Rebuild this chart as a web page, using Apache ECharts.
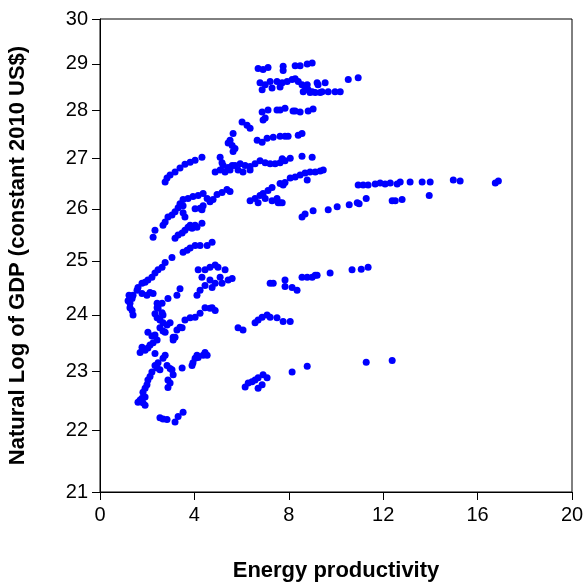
<!DOCTYPE html>
<html>
<head>
<meta charset="utf-8">
<script src="https://cdn.jsdelivr.net/npm/echarts@6/dist/echarts.min.js"></script>
<style>
  html, body { margin: 0; padding: 0; background: #fff; }
  #chart { width: 584px; height: 585px; }
</style>
</head>
<body>
<div id="chart"></div>
<script>
// [energy productivity, natural log of GDP], grouped by cluster
const topRows = [
  [6.70,28.90],[6.91,28.88],[7.12,28.92],[7.76,28.95],[7.76,28.86],[8.27,28.96],[8.48,28.96],[8.78,29.00],[8.99,29.02],
  [6.78,28.59],[7.00,28.55],[7.21,28.62],[7.50,28.62],[7.72,28.59],[7.93,28.62],[8.14,28.66],[6.87,28.44],[7.29,28.48],[7.63,28.50],
  [8.27,28.68],[8.40,28.62],[8.56,28.55],[8.69,28.51],[8.82,28.44],[8.99,28.40],[9.12,28.38],[9.20,28.59],[9.33,28.38],[9.54,28.59],
  [8.61,28.40],[8.90,28.38],[9.41,28.40],[9.67,28.40],[9.96,28.40],[10.18,28.40],[10.52,28.66],[10.94,28.70],[8.78,28.55],[9.24,28.55]
];
const row28 = [
  [6.87,27.97],[7.00,27.84],[6.91,27.80],[7.12,28.01],[7.50,28.01],[7.84,28.05],[8.18,27.99],[8.48,27.97],[8.82,27.99],[9.03,28.03],
  [7.63,28.01],[8.27,27.99]
];
const row275 = [
  [6.66,27.38],[6.87,27.34],[7.08,27.42],[7.34,27.44],[7.63,27.46],[7.84,27.46],[7.97,27.46],[8.40,27.48],[8.56,27.52],
  [6.02,27.76],[6.23,27.69],[6.36,27.63],[5.64,27.52],[5.51,27.38],[5.43,27.32],[5.60,27.27],[5.72,27.21],[5.64,27.15]
];
const row27 = [
  [5.09,27.03],[5.17,26.92],[5.22,26.86],[5.43,26.82],[5.60,26.86],[5.72,26.86],[5.94,26.90],[6.15,26.86],[6.36,26.84],[6.57,26.90],
  [6.78,26.96],[7.00,26.92],[7.21,26.90],[7.42,26.90],[7.63,26.92],[7.84,26.96],[8.06,27.01],[8.56,27.05],[8.99,27.03],[7.72,27.00],
  [4.88,26.73],[5.09,26.77],[5.30,26.73],[5.51,26.77],[5.85,26.77],[6.06,26.73],[6.36,26.77],
  [7.63,26.50],[7.84,26.52],[8.06,26.61],[8.27,26.63],[8.48,26.67],[8.69,26.71],[8.90,26.73],[9.12,26.73],[9.33,26.75],[9.46,26.77],
  [8.78,26.57],[7.76,26.47],
  [2.76,26.53],[2.84,26.61],[2.97,26.67],[3.18,26.73],[3.39,26.81],[3.60,26.89],[3.82,26.93],[4.03,26.97],[4.32,27.03]
];
const row26 = [
  [3.39,26.10],[3.52,26.18],[3.73,26.20],[3.94,26.24],[4.16,26.26],[4.37,26.30],[4.54,26.20],[4.66,26.14],[4.79,26.18],[4.96,26.28],
  [5.17,26.32],[5.38,26.38],[5.51,26.34],[4.03,26.00],[4.24,26.01],[4.37,26.06],
  [6.36,26.16],[6.57,26.20],[6.78,26.26],[6.91,26.30],[7.12,26.36],[7.29,26.42],[7.50,26.20],[7.63,26.12],[6.70,26.12],[7.00,26.20],
  [7.29,26.16],[7.55,26.12],[7.72,26.12]
];
const rightArms = [
  [10.94,26.47],[11.15,26.47],[11.36,26.47],[11.66,26.49],[11.87,26.51],[12.08,26.49],[12.30,26.51],[12.59,26.49],[12.72,26.53],
  [13.14,26.53],[13.65,26.53],[13.99,26.53],[14.97,26.57],[15.26,26.55],[16.75,26.51],[16.88,26.55],
  [8.56,25.84],[8.69,25.90],[9.03,25.96],[9.67,25.98],[10.05,26.04],[10.56,26.08],[10.90,26.12],[10.98,26.10],[11.28,26.20],
  [12.38,26.16],[12.51,26.16],[12.80,26.18],[13.95,26.26]
];
const band25 = [
  [4.32,25.98],[3.52,26.06],[3.31,26.02],[3.18,25.94],[3.05,25.88],[2.88,25.84],[2.76,25.74],[2.67,25.68],[2.33,25.58],[2.25,25.45],
  [3.52,25.92],[3.60,25.84],
  [4.32,25.72],[4.11,25.64],[3.90,25.62],[3.73,25.64],[3.60,25.58],[3.48,25.53],[3.31,25.49],[3.18,25.43],[3.82,25.68],[4.03,25.68],
  [4.75,25.35],[4.54,25.29],[4.03,25.29],[3.82,25.24],[3.69,25.20],[3.52,25.16],[4.24,25.29]
];
const band24 = [
  [3.05,25.06],[2.76,24.97],[2.63,24.88],[2.46,24.83],[2.33,24.77],[2.20,24.69],[2.03,24.64],[1.91,24.60],[1.78,24.58],[1.61,24.50],
  [1.57,24.45],[1.40,24.36],[1.36,24.30],[1.27,24.21],[1.27,24.13],[1.36,24.08],[1.40,24.00],[2.12,24.41],[2.25,24.39],[1.99,24.36],
  [1.78,24.39],[1.19,24.26],[1.23,24.36],
  [3.39,24.48],[3.26,24.36],[2.88,24.30],[2.63,24.21],[2.42,24.13],[2.46,24.17],
  [4.16,24.83],[4.32,24.69],[4.45,24.83],[4.66,24.88],[4.88,24.92],[5.00,24.88],[5.30,24.83],[5.09,24.69],[4.88,24.58],[4.75,24.50],
  [4.45,24.54],[4.24,24.45],[4.11,24.36],[5.43,24.64],[5.60,24.67],[4.66,24.64],[5.17,24.58],
  [4.45,24.13],[4.66,24.12],[4.88,24.08],[4.75,24.13],[4.24,24.03],[4.03,23.96],[3.82,23.95],[3.60,23.91],[3.39,23.78],[3.26,23.73],
  [3.10,23.60],[3.48,23.77],[3.18,23.60],[3.10,23.55],
  [2.42,24.21],[2.46,24.12],[2.63,24.04],[2.67,24.00],[2.33,24.02],[2.42,23.95],[2.54,23.91],[2.67,23.86],[2.84,23.82],[2.97,23.86],
  [2.54,23.77],[2.67,23.71],[2.76,23.69],[2.03,23.69],[2.20,23.62],[2.33,23.64],[2.42,23.55],[2.25,23.50],[1.78,23.42],[1.70,23.33],
  [1.91,23.37],[2.03,23.41],[2.12,23.46],[2.33,23.31]
];
const band23 = [
  [4.11,23.28],[4.03,23.23],[3.94,23.15],[3.90,23.10],[4.45,23.33],[4.54,23.28],[4.37,23.28],[4.16,23.24],[3.48,23.06],
  [2.76,23.28],[2.67,23.23],[2.46,23.15],[2.33,23.10],[2.42,23.06],[2.54,23.03],[2.84,23.10],[2.97,23.05],[3.05,23.03],[3.10,22.94],
  [2.88,22.85],[2.97,22.80],[2.88,22.72],[2.20,22.99],[2.12,22.91],[2.03,22.85],[1.99,22.77],[1.91,22.71],[1.82,22.64],[1.91,22.56],
  [1.78,22.54],[1.70,22.51],[1.61,22.47],[1.82,22.46],[1.91,22.42],
  [2.54,22.21],[2.67,22.19],[2.84,22.18],[3.18,22.14],[3.31,22.23],[3.52,22.30]
];
const rightLow = [
  [6.15,22.73],[6.28,22.80],[6.44,22.82],[6.57,22.85],[6.70,22.89],[6.91,22.94],[7.08,22.89],[6.70,22.71],[6.87,22.77],
  [8.14,22.99],[8.78,23.09],[11.28,23.16],[12.38,23.19],
  [5.85,23.77],[6.06,23.73],[6.57,23.86],[6.70,23.91],[6.87,23.96],[7.08,24.00],[7.21,23.96],[7.50,23.95],[7.76,23.88],[8.06,23.88],
  [7.21,24.58],[7.34,24.58],[7.84,24.64],[7.84,24.52],[8.14,24.50],[8.35,24.45],[8.56,24.69],[8.78,24.69],[8.99,24.69],[9.12,24.73],
  [9.20,24.73],[9.75,24.77],[10.68,24.83],[11.07,24.84],[11.36,24.88]
];
const gdpTicks = [21, 22, 23, 24, 25, 26, 27, 28, 29, 30];

// y axis is drawn on a log scale, so points go in as ln(value)
const points = [].concat(topRows, row28, row275, row27, row26, rightArms, band25, band24, band23, rightLow)
  .map(p => [p[0], Math.log(p[1])]);

const font = 'Liberation Sans, Arial, sans-serif';
let myChart = echarts.init(document.getElementById('chart'));
myChart.setOption({
  animation: false,
  grid: {
    left: 100,
    right: 12,
    top: 19,
    bottom: 93,
    outerBoundsMode: 'none',
    show: true,
    borderColor: '#000',
    borderWidth: 1
  },
  xAxis: {
    type: 'value',
    min: 0,
    max: 20,
    interval: 4,
    name: 'Energy productivity',
    nameLocation: 'middle',
    nameGap: 68,
    nameTextStyle: { fontFamily: font, fontSize: 22, fontWeight: 'bold', color: '#000' },
    axisLine: { lineStyle: { color: '#000', width: 1 } },
    axisTick: { length: 8, lineStyle: { color: '#000' } },
    axisLabel: { margin: 13, fontFamily: font, fontSize: 20, color: '#000' },
    splitLine: { show: false }
  },
  yAxis: {
    type: 'value',
    min: Math.log(21),
    max: Math.log(30),
    name: 'Natural Log of GDP (constant 2010 US$)',
    nameLocation: 'middle',
    nameGap: 71,
    nameTextStyle: { fontFamily: font, fontSize: 22, fontWeight: 'bold', color: '#000' },
    axisLine: { show: true, lineStyle: { color: '#000', width: 1 } },
    axisTick: { show: true, length: 8, lineStyle: { color: '#000' }, customValues: gdpTicks.map(Math.log) },
    axisLabel: {
      margin: 12,
      fontFamily: font,
      fontSize: 20,
      color: '#000',
      customValues: gdpTicks.map(Math.log),
      formatter: v => String(Math.round(Math.exp(v)))
    },
    splitLine: { show: false }
  },
  series: [{
    type: 'scatter',
    data: points,
    symbol: 'circle',
    symbolSize: 7,
    itemStyle: { color: '#0000FF', opacity: 1 }
  }]
});
</script>
</body>
</html>
